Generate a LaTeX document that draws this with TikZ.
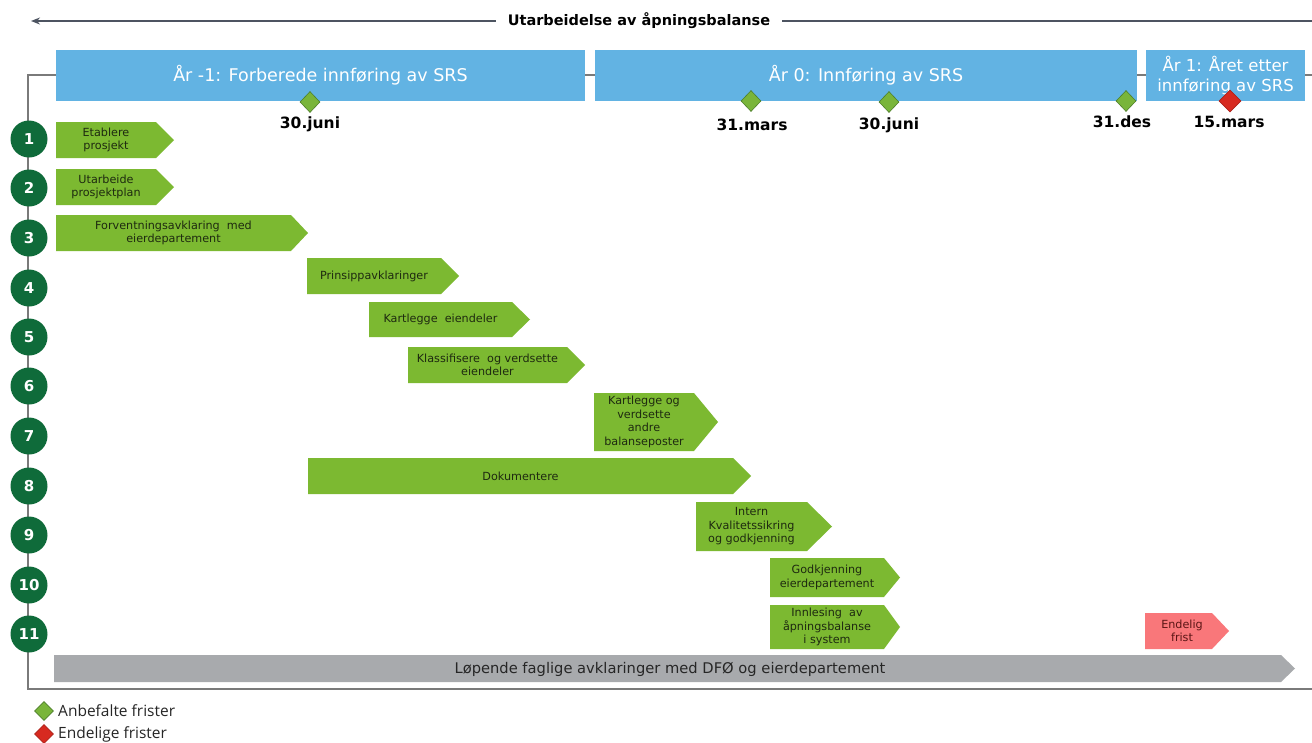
\documentclass[tikz,border=0pt]{standalone}
\usepackage{fontspec}
\setmainfont{DejaVu Sans}
\newfontfamily\legendfont{Open Sans}
\usetikzlibrary{arrows.meta,shapes.geometric}
\definecolor{bannerblue}{HTML}{62B3E3}
\definecolor{taskgreen}{HTML}{7CB931}
\definecolor{numgreen}{HTML}{0F6B3A}
\definecolor{framegray}{HTML}{7A7A7A}
\definecolor{bargray}{HTML}{A8AAAD}
\definecolor{salmon}{HTML}{F9777A}
\definecolor{dgreen}{HTML}{79B53A}
\definecolor{dgreenline}{HTML}{4E7F2A}
\definecolor{dred}{HTML}{D72A20}
\definecolor{topline}{HTML}{4D5461}
\definecolor{tasktextcol}{HTML}{1E2A10}
\definecolor{fristtext}{HTML}{5A1515}
\newcommand{\taskarrow}[8]{%
  \fill[#7] (#2,#3) -- (#4,#3) -- ({#4+#6},{(#3+#5)/2}) -- (#4,#5) -- (#2,#5) -- cycle;
  \node[tasktext] (#1) at ({(#2+#4)/2},{(#3+#5)/2}) {#8};
}
\begin{document}
\begin{tikzpicture}[x=1pt,y=-1pt,
  banner/.style={fill=bannerblue,text=white,font=\fontsize{17.5}{20}\selectfont,align=center,inner sep=0pt},
  tasktext/.style={text=tasktextcol,font=\fontsize{11.2}{13.5}\selectfont,align=center,inner sep=0pt},
  numcirc/.style={circle,fill=numgreen,text=white,font=\bfseries\fontsize{15}{17}\selectfont,minimum size=37pt,inner sep=0pt},
  gdiam/.style={diamond,fill=dgreen,draw=dgreenline,line width=0.6pt,minimum width=20pt,minimum height=21pt,inner sep=0pt},
  rdiam/.style={diamond,fill=dred,draw=dred!80!black,line width=0.6pt,minimum width=22pt,minimum height=22pt,inner sep=0pt},
  datelabel/.style={font=\bfseries\fontsize{15.5}{18}\selectfont,text=black,inner sep=0pt},
  legtext/.style={font=\legendfont\fontsize{15.5}{18}\selectfont,text=black!85,anchor=west,inner sep=0pt},
  framel/.style={draw=framegray,line width=2.6pt},
  toparrow/.style={draw=topline,line width=1.8pt}
]
\useasboundingbox (0,0) rectangle (1312,742);
\fill[white] (0,0) rectangle (1312,742);

% top arrow
\node[font=\bfseries\fontsize{14.5}{17}\selectfont,inner xsep=12pt,inner ysep=0pt] (title) at (639,21) {Utarbeidelse av åpningsbalanse};
\coordinate (tl) at (31,21);
\coordinate (tr) at (1312,21);
\draw[toparrow,-{Stealth[length=9pt,width=7pt]}] (title.west) -- (tl);
\draw[toparrow] (title.east) -- (tr);

% frame
\coordinate (f1) at (1312,75);
\coordinate (f2) at (28,75);
\coordinate (f3) at (28,689);
\coordinate (f4) at (1312,689);
\draw[framel] (f1) -- (f2) -- (f3) -- (f4);

% banners
\node[banner,minimum width=529pt,minimum height=51pt] (b1) at (320.5,75.5) {År -1: Forberede innføring av SRS};
\node[banner,minimum width=542pt,minimum height=51pt] (b2) at (866,75.5) {År 0: Innføring av SRS};
\node[banner,minimum width=159pt,minimum height=51pt,font=\fontsize{16.5}{20}\selectfont] (b3) at (1225.5,75.5) {År 1: Året etter\\innføring av SRS};

% diamonds and dates
\node[gdiam] (d1) at (310,102) {};
\node[gdiam] (d2) at (751,101) {};
\node[gdiam] (d3) at (889,102) {};
\node[gdiam] (d4) at (1126,101) {};
\node[rdiam] (d5) at (1230,101) {};
\node[datelabel] (l1) at (310,124) {30.juni};
\node[datelabel] (l2) at (752,125) {31.mars};
\node[datelabel] (l3) at (889,125) {30.juni};
\node[datelabel] (l4) at (1122,122) {31.des};
\node[datelabel] (l5) at (1229,122) {15.mars};

% numbered circles
\foreach \n/\yy in {1/139,2/188,3/238,4/288,5/337,6/386,7/436,8/486,9/535,10/585,11/634}{
  \node[numcirc] (c\n) at (29,\yy) {\n};
}

% tasks
\taskarrow{t1}{56}{122}{156}{158}{18}{taskgreen}{Etablere\\prosjekt}
\taskarrow{t2}{56}{169}{156}{205}{18}{taskgreen}{Utarbeide\\prosjektplan}
\taskarrow{t3}{56}{215}{291}{251}{17}{taskgreen}{Forventningsavklaring\ \ med\\eierdepartement}
\taskarrow{t4}{307}{258}{441}{294}{18}{taskgreen}{Prinsippavklaringer}
\taskarrow{t5}{369}{302}{512}{337}{18}{taskgreen}{Kartlegge\ \ eiendeler}
\taskarrow{t6}{408}{347}{567}{383}{18}{taskgreen}{Klassifisere\ \ og verdsette\\eiendeler}
\taskarrow{t7}{594}{393}{694}{451}{24}{taskgreen}{Kartlegge og\\verdsette\\andre\\balanseposter}
\taskarrow{t8}{308}{458}{733}{494}{18}{taskgreen}{Dokumentere}
\taskarrow{t9}{696}{502}{807}{551}{25}{taskgreen}{Intern\\Kvalitetssikring\\og godkjenning}
\taskarrow{t10}{770}{558}{884}{597}{16}{taskgreen}{Godkjenning\\eierdepartement}
\taskarrow{t11}{770}{605}{884}{649}{16}{taskgreen}{Innlesing\ \ av\\åpningsbalanse\\i system}
\fill[salmon] (1145,613) -- (1212,613) -- (1229,631) -- (1212,649) -- (1145,649) -- cycle;
\node[tasktext,text=fristtext] (t12) at (1182,631) {Endelig\\frist};

% gray bar
\fill[bargray] (54,655) -- (1281,655) -- (1295,668.5) -- (1281,682) -- (54,682) -- cycle;
\node[font=\fontsize{14.7}{17}\selectfont,text=black!85,inner sep=0pt] (gb) at (670,669) {Løpende faglige avklaringer med DFØ og eierdepartement};

% legend
\node[gdiam,minimum width=19pt,minimum height=19pt] (lg1) at (44,711) {};
\node[rdiam,minimum width=19pt,minimum height=19pt] (lg2) at (44,734) {};
\node[legtext] (lt1) at (58,711) {Anbefalte frister};
\node[legtext] (lt2) at (58,734) {Endelige frister};
\end{tikzpicture}
\end{document}
